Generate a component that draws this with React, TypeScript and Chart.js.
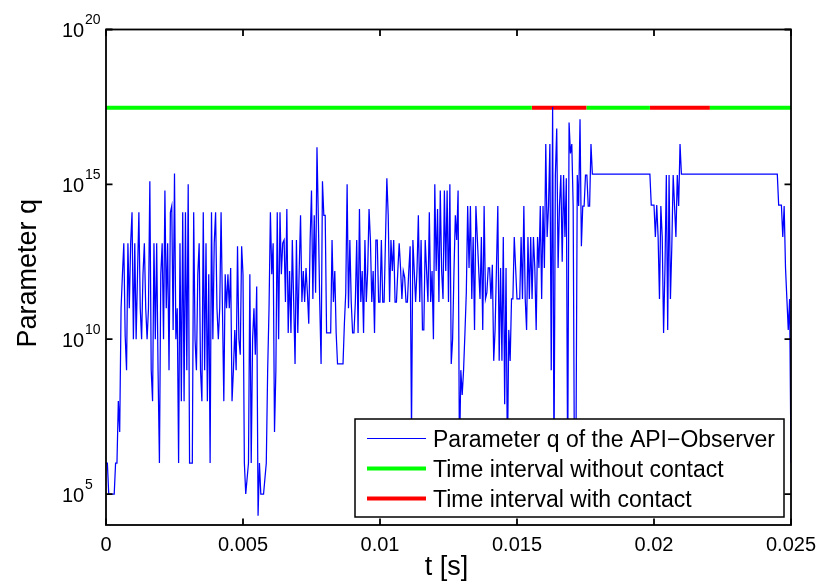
import React, { useEffect, useRef } from 'react';
import { Chart, registerables } from 'chart.js';

Chart.register(...registerables);

const FONT = "'Liberation Sans', Arial, Helvetica, sans-serif";

// sampling interval of the observer signal, in milliseconds
const SAMPLE_MS = 0.05;

// log10 of parameter q, one value per sample (20 samples per ms)
const logQ_0to5ms = [
  6.0, 6.0, 5.0, 5.0, 5.0, 5.0, 5.0, 6.0, 6.0, 8.0, 7.0, 11.0, 12.1, 13.1, 10.1, 9.0, 13.1, 11.0, 13.1, 14.1,
  10.0, 13.1, 10.0, 12.1, 14.1, 11.0, 10.0, 12.1, 13.1, 11.0, 10.0, 11.0, 15.1, 9.0, 8.0, 13.1, 10.0, 13.1, 9.0, 6.0,
  12.1, 13.1, 10.0, 14.8, 11.0, 13.1, 9.0, 14.1, 14.3, 10.3, 15.35, 10.0, 11.0, 6.0, 13.1, 8.0, 14.1, 8.0, 14.1, 9.0,
  15.0, 6.0, 6.0, 6.0, 14.1, 10.0, 9.0, 12.1, 13.1, 9.0, 8.0, 14.1, 9.0, 13.1, 8.0, 12.1, 6.0, 14.1, 10.0, 13.1,
  14.1, 11.0, 10.0, 11.0, 14.1, 11.0, 8.0, 12.1, 11.0, 12.1, 11.0, 12.3, 8.0, 9.0, 10.3, 9.0, 13.0, 10.0, 9.5, 13.0,
];
const logQ_5to10ms = [
  12.1, 6.0, 5.0, 5.5, 6.0, 12.1, 6.0, 10.0, 11.0, 9.5, 11.7, 4.3, 6.0, 5.0, 5.0, 5.0, 5.5, 6.0, 9.0, 11.0,
  14.1, 12.1, 13.1, 7.0, 9.0, 14.1, 10.0, 14.1, 12.1, 13.1, 13.2, 11.2, 14.2, 10.2, 12.2, 10.2, 13.2, 11.2, 9.2, 13.2,
  10.2, 12.2, 14.0, 11.2, 12.2, 11.2, 12.3, 11.5, 10.5, 13.2, 14.8, 11.3, 14.0, 11.5, 16.2, 13.9, 11.2, 9.2, 15.1, 14.0,
  14.0, 10.2, 10.2, 10.2, 10.2, 13.2, 11.2, 12.2, 10.2, 9.2, 9.2, 9.2, 9.2, 9.2, 10.5, 11.5, 15.0, 11.0, 13.2, 11.2,
  10.2, 10.2, 11.2, 13.2, 10.2, 14.2, 11.2, 12.2, 10.2, 13.2, 11.2, 12.2, 14.2, 13.2, 11.2, 12.2, 10.2, 13.2, 13.2, 11.2,
];
const logQ_10to15ms = [
  11.2, 13.2, 11.2, 11.2, 13.2, 15.2, 14.0, 11.2, 13.2, 12.2, 13.2, 11.2, 11.2, 12.2, 13.1, 12.3, 11.3, 12.2, 12.0, 11.2,
  11.2, 12.2, 13.0, 7.0, 13.2, 12.2, 11.2, 12.2, 14.0, 11.2, 13.2, 10.3, 10.3, 13.2, 12.2, 11.2, 14.1, 11.2, 12.2, 10.0,
  15.0, 12.2, 14.2, 11.2, 14.8, 12.2, 11.3, 14.8, 12.2, 14.8, 11.2, 15.0, 9.2, 10.0, 12.2, 14.0, 13.2, 14.8, 6.0, 9.0,
  8.2, 9.0, 10.2, 11.5, 14.3, 12.3, 14.3, 11.3, 13.3, 10.3, 14.3, 13.3, 12.3, 11.3, 13.3, 10.3, 14.3, 11.3, 11.5, 12.3,
  12.3, 11.3, 12.4, 9.3, 10.3, 12.3, 14.3, 9.3, 12.3, 9.3, 13.3, 7.9, 12.3, 6.0, 10.3, 9.3, 11.3, 11.3, 13.3, 12.3,
];
const logQ_15to20ms = [
  11.3, 11.3, 11.3, 13.3, 11.3, 14.3, 11.3, 10.3, 13.3, 11.3, 13.3, 11.3, 13.3, 12.3, 10.3, 13.3, 12.3, 14.3, 11.3, 14.3,
  12.3, 16.3, 13.3, 14.3, 16.3, 9.0, 17.5, 6.0, 15.3, 16.8, 12.3, 14.3, 15.3, 12.5, 15.3, 13.3, 15.2, 5.5, 17.0, 16.0,
  16.3, 14.3, 5.0, 6.0, 15.3, 14.3, 17.1, 13.0, 14.3, 14.3, 15.3, 15.3, 14.3, 14.3, 16.3, 15.33, 15.33, 15.33, 15.33, 15.33,
  15.33, 15.33, 15.33, 15.33, 15.33, 15.33, 15.33, 15.33, 15.33, 15.33, 15.33, 15.33, 15.33, 15.33, 15.33, 15.33, 15.33, 15.33, 15.33, 15.33,
  15.33, 15.33, 15.33, 15.33, 15.33, 15.33, 15.33, 15.33, 15.33, 15.33, 15.33, 15.33, 15.33, 15.33, 15.33, 15.33, 15.33, 15.33, 14.33, 14.33,
];
const logQ_20to25ms = [
  14.33, 13.3, 14.33, 13.3, 11.3, 14.3, 13.3, 10.2, 12.3, 15.3, 10.3, 15.3, 11.3, 13.0, 15.3, 14.3, 13.3, 15.3, 14.3, 16.3,
  15.33, 15.33, 15.33, 15.33, 15.33, 15.33, 15.33, 15.33, 15.33, 15.33, 15.33, 15.33, 15.33, 15.33, 15.33, 15.33, 15.33, 15.33, 15.33, 15.33,
  15.33, 15.33, 15.33, 15.33, 15.33, 15.33, 15.33, 15.33, 15.33, 15.33, 15.33, 15.33, 15.33, 15.33, 15.33, 15.33, 15.33, 15.33, 15.33, 15.33,
  15.33, 15.33, 15.33, 15.33, 15.33, 15.33, 15.33, 15.33, 15.33, 15.33, 15.33, 15.33, 15.33, 15.33, 15.33, 15.33, 15.33, 15.33, 15.33, 15.33,
  15.33, 15.33, 15.33, 15.33, 15.33, 15.33, 15.33, 15.33, 15.33, 15.33, 15.33, 14.33, 14.33, 14.33, 13.3, 14.3, 12.3, 11.3, 10.3, 11.3,
  6.0,
];

// time intervals (ms) with and without contact, drawn at a fixed level
const noContactMs: [number, number][] = [[0, 15.54], [17.54, 19.85], [22.04, 25]];
const contactMs: [number, number][] = [[15.54, 17.54], [19.85, 22.04]];
const intervalLevel = 3e17;

const xTickValues = [0, 0.005, 0.01, 0.015, 0.02, 0.025];
const xTickLabels = ['0', '0.005', '0.01', '0.015', '0.02', '0.025'];
const yTickExponents = [5, 10, 15, 20];

const seriesLabels = [
  'Parameter q of the API\u2212Observer',
  'Time interval without contact',
  'Time interval with contact',
];
const seriesColors = ['#0000ff', '#00ff00', '#ff0000'];
const xTitle = 't [s]';
const yTitle = 'Parameter q';

function intervalPoints(intervals: [number, number][]) {
  const pts: { x: number; y: number | null }[] = [];
  intervals.forEach(([a, b]) => {
    pts.push({ x: a / 1000, y: intervalLevel });
    pts.push({ x: b / 1000, y: intervalLevel });
    pts.push({ x: b / 1000, y: null });
  });
  return pts;
}

const framePlugin = {
  id: 'matlabFrame',
  afterDatasetsDraw(chart: any) {
    const { ctx, chartArea: a, scales } = chart;
    const xs = scales.x;
    const ys = scales.y;
    ctx.save();
    ctx.strokeStyle = '#000';
    ctx.lineWidth = 1.8;
    ctx.strokeRect(a.left, a.top, a.right - a.left, a.bottom - a.top);
    const tick = 6.5;
    ctx.beginPath();
    xTickValues.forEach((v) => {
      const px = xs.getPixelForValue(v);
      ctx.moveTo(px, a.bottom);
      ctx.lineTo(px, a.bottom - tick);
      ctx.moveTo(px, a.top);
      ctx.lineTo(px, a.top + tick);
    });
    yTickExponents.forEach((e) => {
      const py = ys.getPixelForValue(Math.pow(10, e));
      ctx.moveTo(a.left, py);
      ctx.lineTo(a.left + tick, py);
      ctx.moveTo(a.right, py);
      ctx.lineTo(a.right - tick, py);
    });
    ctx.stroke();

    ctx.fillStyle = '#000';
    ctx.textBaseline = 'alphabetic';
    ctx.font = `20px ${FONT}`;
    ctx.textAlign = 'center';
    xTickValues.forEach((v, i) => {
      ctx.fillText(xTickLabels[i], xs.getPixelForValue(v), a.bottom + 26);
    });
    ctx.textAlign = 'left';
    yTickExponents.forEach((e) => {
      const py = ys.getPixelForValue(Math.pow(10, e));
      ctx.font = `20px ${FONT}`;
      ctx.fillText('10', a.left - 44, py + 7.8);
      ctx.font = `14px ${FONT}`;
      ctx.fillText(String(e), a.left - 21, py - 5.5);
    });

    ctx.font = `27px ${FONT}`;
    ctx.textAlign = 'center';
    ctx.fillText(xTitle, (a.left + a.right) / 2 - 2, a.bottom + 49.5);
    ctx.save();
    ctx.translate(a.left - 70, (a.top + a.bottom) / 2 - 4);
    ctx.rotate(-Math.PI / 2);
    ctx.fillText(yTitle, 0, 0);
    ctx.restore();
    ctx.restore();
  },
};

const legendPlugin = {
  id: 'matlabLegend',
  afterDatasetsDraw(chart: any) {
    const { ctx, chartArea: a } = chart;
    const w = 429;
    const h = 98;
    const right = a.right - 7;
    const bottom = a.bottom - 8;
    const left = right - w;
    const top = bottom - h;
    ctx.save();
    ctx.fillStyle = '#fff';
    ctx.fillRect(left, top, w, h);
    ctx.strokeStyle = '#000';
    ctx.lineWidth = 1.5;
    ctx.strokeRect(left, top, w, h);
    ctx.font = `23px ${FONT}`;
    ctx.textAlign = 'left';
    ctx.textBaseline = 'alphabetic';
    chart.data.datasets.forEach((ds: any, i: number) => {
      const ly = top + 19.5 + i * 30;
      ctx.strokeStyle = ds.borderColor;
      ctx.lineWidth = i === 0 ? 1 : ds.borderWidth;
      ctx.beginPath();
      ctx.moveTo(left + 12, ly);
      ctx.lineTo(left + 71, ly);
      ctx.stroke();
      ctx.fillStyle = '#000';
      ctx.fillText(ds.label, left + 78, ly + 8.4);
    });
    ctx.restore();
  },
};

export default function App() {
  const ref = useRef<HTMLCanvasElement | null>(null);

  useEffect(() => {
    if (!ref.current) return;
    const logQ = [...logQ_0to5ms, ...logQ_5to10ms, ...logQ_10to15ms, ...logQ_15to20ms, ...logQ_20to25ms];
    const qData = logQ.map((v, i) => ({ x: (i * SAMPLE_MS) / 1000, y: Math.pow(10, v) }));
    const chart = new Chart(ref.current, {
      type: 'line',
      data: {
        datasets: [
          {
            label: seriesLabels[0],
            data: qData,
            borderColor: seriesColors[0],
            borderWidth: 1.25,
            pointRadius: 0,
            tension: 0,
          },
          {
            label: seriesLabels[1],
            data: intervalPoints(noContactMs),
            borderColor: seriesColors[1],
            borderWidth: 4,
            pointRadius: 0,
            spanGaps: false,
          },
          {
            label: seriesLabels[2],
            data: intervalPoints(contactMs),
            borderColor: seriesColors[2],
            borderWidth: 4,
            pointRadius: 0,
            spanGaps: false,
          },
        ],
      } as any,
      options: {
        animation: false,
        responsive: false,
        maintainAspectRatio: false,
        events: [],
        parsing: true,
        layout: { padding: { left: 106, top: 29.5, right: 30, bottom: 56 } },
        plugins: { legend: { display: false }, tooltip: { enabled: false } },
        scales: {
          x: { type: 'linear', min: 0, max: 0.025, display: false },
          y: { type: 'logarithmic', min: 1e4, max: 1e20, display: false },
        },
      } as any,
      plugins: [framePlugin, legendPlugin],
    });
    return () => chart.destroy();
  }, []);

  return (
    <div style={{ position: 'absolute', left: 0, top: 0, width: 821, height: 581, background: '#fff' }}>
      <canvas ref={ref} width={821} height={581} style={{ display: 'block', width: 821, height: 581 }} />
    </div>
  );
}
